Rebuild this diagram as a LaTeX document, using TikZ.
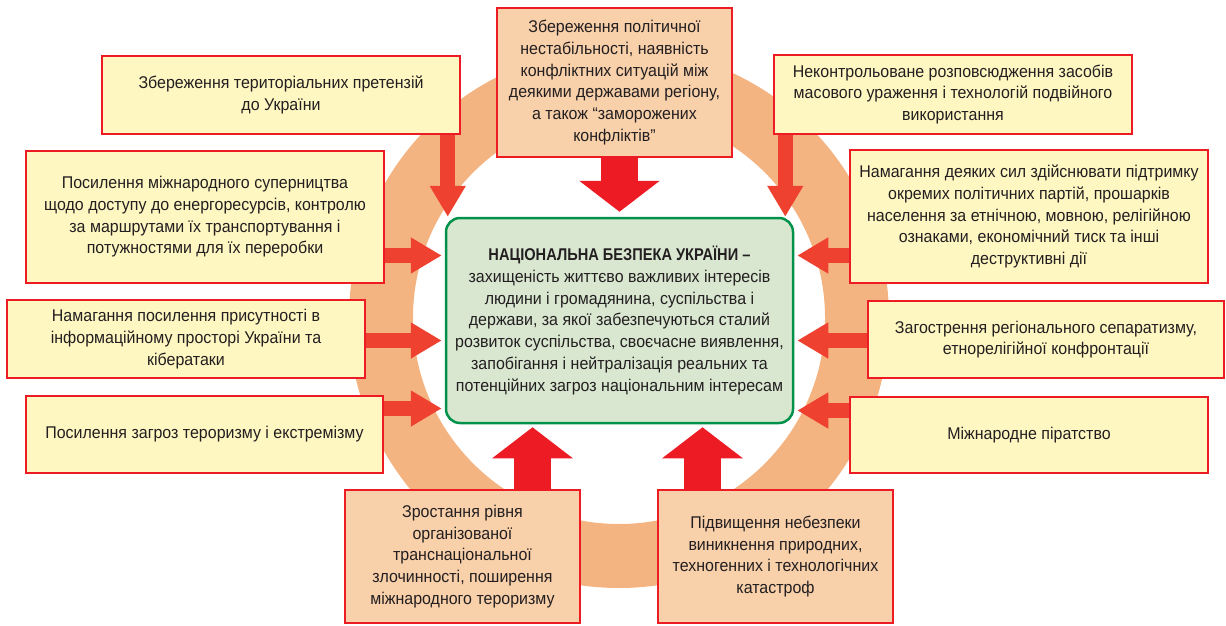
\documentclass[tikz,border=0pt]{standalone}
\usepackage{fontspec}
\setmainfont{Liberation Sans}[FakeStretch=0.94]
\newfontfamily\headfont{Liberation Sans}[FakeStretch=0.86]
\usetikzlibrary{calc}
\usetikzlibrary{arrows.meta}
\definecolor{boxred}{HTML}{ED1C24}
\definecolor{paleyellow}{HTML}{FFF7C2}
\definecolor{salmon}{HTML}{F8D0AA}
\definecolor{ringorange}{HTML}{F4B482}
\definecolor{coregreen}{HTML}{00914A}
\definecolor{corefill}{HTML}{D9E7D1}
\definecolor{pushred}{HTML}{EF4130}
\definecolor{textgray}{HTML}{231F20}
\tikzset{
  threat/.style = {draw=boxred, fill=#1, line width=2.5pt, inner sep=0pt, align=center,
    text=textgray, font=\fontsize{17pt}{21.7pt}\selectfont},
  core/.style = {draw=#1, fill=corefill, line width=2.5pt, rounded corners=14pt, inner sep=0pt,
    align=center, text=textgray, font=\fontsize{17pt}{21.7pt}\selectfont},
  ring/.style = {draw=#1, line width=64pt},
  push/.style = {color=#1, line width=15pt, -{Triangle[length=31pt, width=34pt]}},
  bigpush/.style = {color=#1, line width=37pt, -{Triangle[length=31pt, width=79pt]}}
}

\begin{document}
\begin{tikzpicture}[x=1pt, y=-1pt]
    \useasboundingbox (0,0) rectangle (1226,626);

    %==== Ring ====
    \coordinate (ringC) at (619,318);
    \draw[ring={ringorange}] (ringC) circle [radius=238pt];

    %==== Centre ====
    \node[core={coregreen}, minimum width=347, minimum height=205] (core) at (619.5,320.5)
        {{\headfont\bfseries НАЦІОНАЛЬНА БЕЗПЕКА УКРАЇНИ –}\\захищеність життєво важливих інтересів\\людини і громадянина, суспільства і\\держави, за якої забезпечуються сталий\\розвиток суспільства, своєчасне виявлення,\\запобігання і нейтралізація реальних та\\потенційних загроз національним інтересам};

    %==== Threats, top row ====
    \node[threat={paleyellow}, minimum width=358, minimum height=78] (terr) at (281,95)
        {Збереження територіальних претензій\\до України};
    \node[threat={salmon}, minimum width=235, minimum height=149] (instab) at (614.5,82.5)
        {Збереження політичної\\нестабільності, наявність\\конфліктних ситуацій між\\деякими державами регіону,\\а також “заморожених\\конфліктів”};
    \node[threat={paleyellow}, minimum width=358, minimum height=79] (wmd) at (953,94.5)
        {Неконтрольоване розповсюдження засобів\\масового ураження і технологій подвійного\\використання};

    %==== Threats, left side ====
    \node[threat={paleyellow}, minimum width=358, minimum height=132] (rivalry) at (205,217)
        {Посилення міжнародного суперництва\\щодо доступу до енергоресурсів, контролю\\за маршрутами їх транспортування і\\потужностями для їх переробки};
    \node[threat={paleyellow}, minimum width=358, minimum height=78] (info) at (186,339)
        {Намагання посилення присутності в\\інформаційному просторі України та\\кібератаки};
    \node[threat={paleyellow}, minimum width=357, minimum height=77] (terror) at (204.5,434.5)
        {Посилення загроз тероризму і екстремізму};

    %==== Threats, right side ====
    \node[threat={paleyellow}, minimum width=358, minimum height=133] (forces) at (1029,216.5)
        {Намагання деяких сил здійснювати підтримку\\окремих політичних партій, прошарків\\населення за етнічною, мовною, релігійною\\ознаками, економічний тиск та інші\\деструктивні дії};
    \node[threat={paleyellow}, minimum width=356, minimum height=77] (separ) at (1046,339.5)
        {Загострення регіонального сепаратизму,\\етнорелігійної конфронтації};
    \node[threat={paleyellow}, minimum width=358, minimum height=76] (pirate) at (1029,435)
        {Міжнародне піратство};

    %==== Threats, bottom row ====
    \node[threat={salmon}, minimum width=235, minimum height=133] (crime) at (462.5,556.5)
        {Зростання рівня\\організованої\\транснаціональної\\злочинності, поширення\\міжнародного тероризму};
    \node[threat={salmon}, minimum width=235, minimum height=133] (disaster) at (775.5,556.5)
        {Підвищення небезпеки\\виникнення природних,\\техногенних і технологічних\\катастроф};

    % Tips
    \coordinate (tipTL) at ($(core.north west)+(3,0)$);
    \coordinate (tipTC) at ($(core.north)+(0,-5)$);
    \coordinate (tipTR) at ($(core.north east)+(-9,0)$);
    \coordinate (tipL2) at ($(core.west)+(-3,-65)$);
    \coordinate (tipL3) at ($(core.west)+(-3,20)$);
    \coordinate (tipL4) at ($(core.west)+(-3,88)$);
    \coordinate (tipR2) at ($(core.east)+(3,-65)$);
    \coordinate (tipR3) at ($(core.east)+(3,20)$);
    \coordinate (tipR4) at ($(core.east)+(3,90)$);
    \coordinate (tipB1) at ($(core.south)+(-87,3)$);
    \coordinate (tipB2) at ($(core.south)+(83,3)$);

    % Arrows
    \draw[push={pushred}] (tipTL |- terr.south) -- (tipTL);
    \draw[bigpush={boxred}] (tipTC |- instab.south) -- (tipTC);
    \draw[push={pushred}] (tipTR |- wmd.south) -- (tipTR);
    \draw[push={pushred}] (tipL2 -| rivalry.east) -- (tipL2);
    \draw[push={pushred}] (tipL3 -| info.east) -- (tipL3);
    \draw[push={pushred}] (tipL4 -| terror.east) -- (tipL4);
    \draw[push={pushred}] (tipR2 -| forces.west) -- (tipR2);
    \draw[push={pushred}] (tipR3 -| separ.west) -- (tipR3);
    \draw[push={pushred}] (tipR4 -| pirate.west) -- (tipR4);
    \draw[bigpush={boxred}] (tipB1 |- crime.north) -- (tipB1);
    \draw[bigpush={boxred}] (tipB2 |- disaster.north) -- (tipB2);

\end{tikzpicture}
\end{document}
